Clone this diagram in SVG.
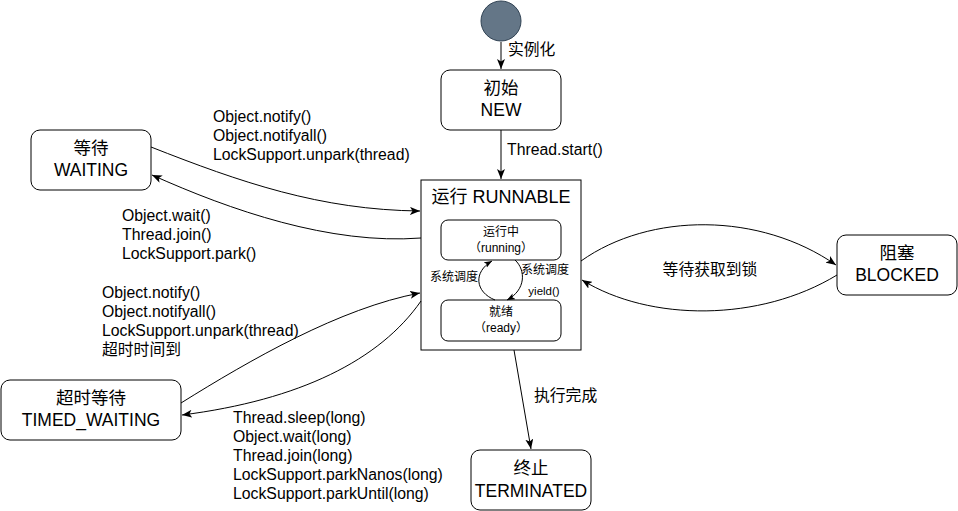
<svg xmlns="http://www.w3.org/2000/svg" width="958" height="511" viewBox="0 0 958 511">
<style>
.node{fill:#ffffff;stroke:#000000;stroke-width:1}
.t{font-family:"Liberation Sans","Noto Sans CJK SC",sans-serif;fill:#000000}
.n{font-size:17.5px;text-anchor:middle}
.e{font-size:15.8px}
.s{font-size:12px;text-anchor:middle}
.c{fill:none;stroke:#000000;stroke-width:1}
</style>
<defs>
<marker id="arr" viewBox="0 0 10 8" refX="10" refY="4" markerWidth="10" markerHeight="8" orient="auto" markerUnits="userSpaceOnUse">
<path d="M0,0 L10,4 L0,8 L2.5,4 z" fill="#000000"/>
</marker>
<marker id="arrs" viewBox="0 0 10 8" refX="10" refY="4" markerWidth="8" markerHeight="7" orient="auto" markerUnits="userSpaceOnUse">
<path d="M0,0 L10,4 L0,8 L2.5,4 z" fill="#000000"/>
</marker>
</defs>
<rect width="958" height="511" fill="#ffffff"/>
<g id="start">
<circle cx="501" cy="21" r="20" fill="#647687" stroke="#314354" stroke-width="1"/>
</g>
<g id="new">
<rect class="node" x="441" y="70" width="120" height="60" rx="9"/>
<text class="t n" x="501" y="94">初始</text>
<text class="t n" x="501" y="116">NEW</text>
</g>
<g id="runnable">
<rect class="node" x="421" y="180" width="160" height="170"/>
<text class="t n" x="501" y="203" style="font-size:18px">运行 RUNNABLE</text>
</g>
<g id="running">
<rect class="node" x="441" y="220" width="120" height="40" rx="7"/>
<text class="t s" x="501" y="236">运行中</text>
<text class="t s" x="501" y="252">（running）</text>
</g>
<g id="ready">
<rect class="node" x="441" y="300" width="120" height="41" rx="7"/>
<text class="t s" x="501" y="316">就绪</text>
<text class="t s" x="501" y="332">（ready）</text>
</g>
<g id="waiting">
<rect class="node" x="31" y="130" width="120" height="60" rx="9"/>
<text class="t n" x="91" y="154">等待</text>
<text class="t n" x="91" y="176">WAITING</text>
</g>
<g id="timed_waiting">
<rect class="node" x="1" y="380" width="180" height="60" rx="9"/>
<text class="t n" x="91" y="404">超时等待</text>
<text class="t n" x="91" y="426">TIMED_WAITING</text>
</g>
<g id="blocked">
<rect class="node" x="837" y="235" width="120" height="60" rx="9"/>
<text class="t n" x="897" y="259">阻塞</text>
<text class="t n" x="897" y="281">BLOCKED</text>
</g>
<g id="terminated">
<rect class="node" x="471" y="450" width="120" height="60" rx="9"/>
<text class="t n" x="531" y="474">终止</text>
<text class="t n" x="531" y="497">TERMINATED</text>
</g>
<g id="connectors">
<path class="c" d="M501,42 L501,69" marker-end="url(#arr)"/>
<path class="c" d="M501,130 L501,179" marker-end="url(#arr)"/>
<path class="c" d="M151,147 C 240,182 320,210 420,211" marker-end="url(#arr)"/>
<path class="c" d="M421,238 C 330,245 230,210 152,175" marker-end="url(#arr)"/>
<path class="c" d="M181,403 C 250,360 340,308 420,293" marker-end="url(#arr)"/>
<path class="c" d="M421,301 C 380,360 300,400 182,415" marker-end="url(#arr)"/>
<path class="c" d="M581,261 C 650,212 760,212 836,265" marker-end="url(#arr)"/>
<path class="c" d="M837,275 C 760,322 650,322 582,280" marker-end="url(#arr)"/>
<path class="c" d="M514,350 L531,449" marker-end="url(#arr)"/>
<path class="c" d="M495,300 C 475,292 473,272 492,261" marker-end="url(#arrs)"/>
<path class="c" d="M515,260 C 526,270 526,290 507,300" marker-end="url(#arrs)"/>
<text class="t e" x="508" y="55">实例化</text>
<text class="t e" x="507" y="155">Thread.start()</text>
<text class="t e" x="213" y="122">Object.notify()</text>
<text class="t e" x="213" y="141">Object.notifyall()</text>
<text class="t e" x="213" y="160">LockSupport.unpark(thread)</text>
<text class="t e" x="122" y="221">Object.wait()</text>
<text class="t e" x="122" y="240">Thread.join()</text>
<text class="t e" x="122" y="259">LockSupport.park()</text>
<text class="t e" x="102" y="298">Object.notify()</text>
<text class="t e" x="102" y="317">Object.notifyall()</text>
<text class="t e" x="102" y="336">LockSupport.unpark(thread)</text>
<text class="t e" x="102" y="355">超时时间到</text>
<text class="t e" x="233" y="423">Thread.sleep(long)</text>
<text class="t e" x="233" y="442">Object.wait(long)</text>
<text class="t e" x="233" y="461">Thread.join(long)</text>
<text class="t e" x="233" y="480">LockSupport.parkNanos(long)</text>
<text class="t e" x="233" y="499">LockSupport.parkUntil(long)</text>
<text class="t e" x="710" y="275" text-anchor="middle">等待获取到锁</text>
<text class="t e" x="534" y="401">执行完成</text>
<text class="t s" x="454" y="281">系统调度</text>
<text class="t s" x="545" y="274">系统调度</text>
<text class="t s" x="544" y="295" style="font-size:11.5px">yield()</text>
</g>
</svg>
